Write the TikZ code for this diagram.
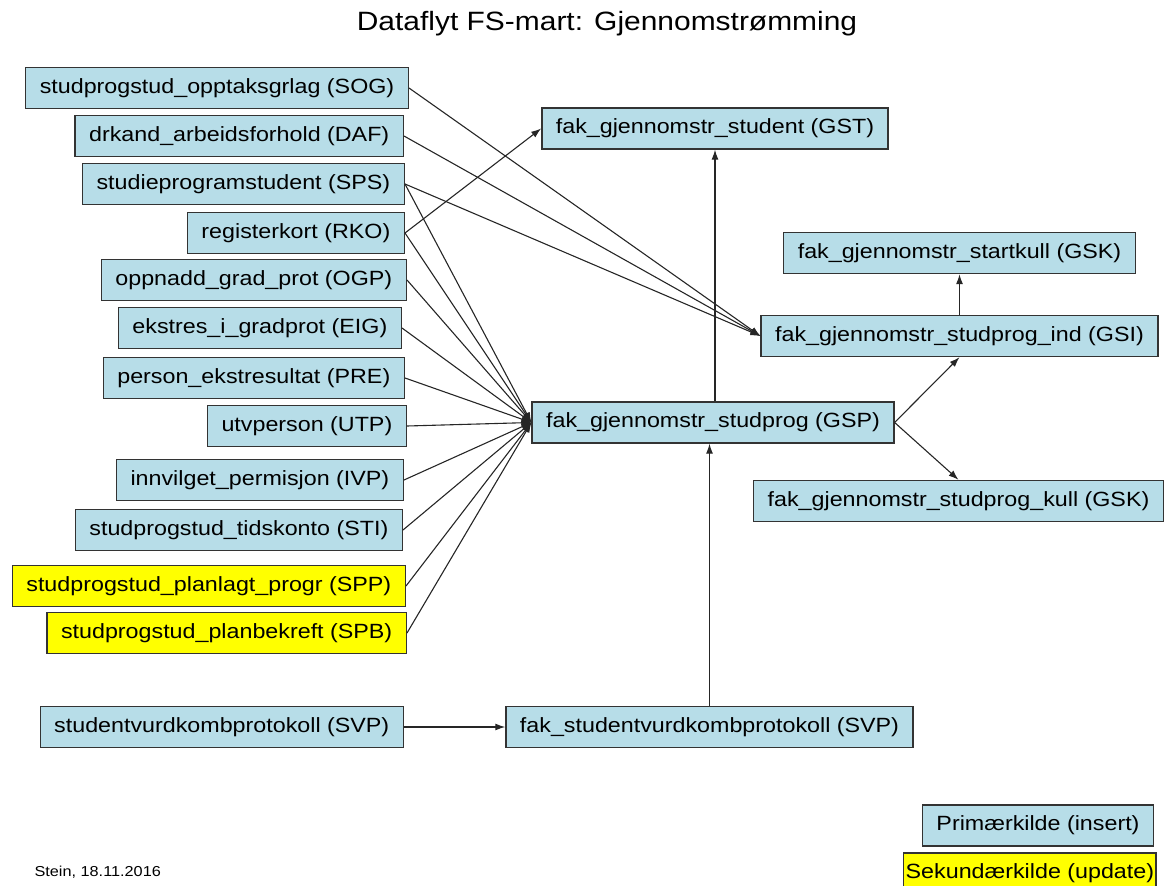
\documentclass[tikz,border=0pt]{standalone}
\usepackage{fontspec}
\setmainfont{Liberation Sans}[FakeStretch=1.13]
\usepackage{tikz}
\usetikzlibrary{arrows.meta,positioning}

\definecolor{kildeblaa}{RGB}{183,221,232}
\definecolor{kildegul}{RGB}{255,255,0}

\begin{document}
\begin{tikzpicture}[x=1pt,y=-1pt,
  tabell/.style={draw=black!80,line width=1.4pt,fill=kildeblaa,minimum height=41pt,
    inner xsep=14pt,inner ysep=0pt,font=\fontsize{20.6}{24}\selectfont},
  sektabell/.style={tabell,fill=kildegul},
  flyt/.style={-{Latex[length=10pt,width=7pt]},line width=1.1pt,black!85}]
\path[use as bounding box,clip] (0,0) rectangle (1170,886);
% Title
\node[anchor=base,font=\fontsize{26.5}{31}\selectfont] (tittel) at (607,30) {Dataflyt FS-mart: Gjennomstrømming};
% Source tables
\node[tabell,anchor=east] (sog) at (409,88) {studprogstud\_opptaksgrlag (SOG)};
\node[tabell,anchor=east] (daf) at (404,136) {drkand\_arbeidsforhold (DAF)};
\node[tabell,anchor=east] (sps) at (405,184) {studieprogramstudent (SPS)};
\node[tabell,anchor=east] (rko) at (405,233) {registerkort (RKO)};
\node[tabell,anchor=east] (ogp) at (407,280) {oppnadd\_grad\_prot (OGP)};
\node[tabell,anchor=east] (eig) at (402,328) {ekstres\_i\_gradprot (EIG)};
\node[tabell,anchor=east] (pre) at (405,378) {person\_ekstresultat (PRE)};
\node[tabell,anchor=east] (utp) at (407,426) {utvperson (UTP)};
\node[tabell,anchor=east] (ivp) at (404,480) {innvilget\_permisjon (IVP)};
\node[tabell,anchor=east] (sti) at (403,530) {studprogstud\_tidskonto (STI)};
\node[sektabell,anchor=east] (spp) at (406,586) {studprogstud\_planlagt\_progr (SPP)};
\node[sektabell,anchor=east] (spb) at (407,633) {studprogstud\_planbekreft (SPB)};
\node[tabell,anchor=east] (svp) at (404,727) {studentvurdkombprotokoll (SVP)};
% Mart tables
\node[tabell] (gst) at (715,128.5) {fak\_gjennomstr\_student (GST)};
\node[tabell] (gsk) at (959.5,253) {fak\_gjennomstr\_startkull (GSK)};
\node[tabell] (gsi) at (959.5,336) {fak\_gjennomstr\_studprog\_ind (GSI)};
\node[tabell] (gsp) at (713,422.5) {fak\_gjennomstr\_studprog (GSP)};
\node[tabell] (kull) at (958.5,501) {fak\_gjennomstr\_studprog\_kull (GSK)};
\node[tabell] (fsvp) at (709.5,727) {fak\_studentvurdkombprotokoll (SVP)};
% Legend
\node[tabell] (primaer) at (1038,825.5) {Primærkilde (insert)};
\node[sektabell,anchor=west,inner xsep=2pt] (sekundaer) at (903,873.5) {Sekundærkilde (update)};
\node[anchor=west,font=\fontsize{14.4}{17}\selectfont] (signatur) at (31,872) {Stein, 18.11.2016};
% Flows
\draw[flyt] (sog.east) -- (gsi.west);
\draw[flyt] (daf.east) -- (gsi.west);
\draw[flyt] (sps.east) -- (gsi.west);
\draw[flyt] (sps.east) -- (gsp.west);
\draw[flyt] (rko.east) -- (gst.west);
\draw[flyt] (rko.east) -- (gsp.west);
\draw[flyt] (ogp.east) -- (gsp.west);
\draw[flyt] (eig.east) -- (gsp.west);
\draw[flyt] (pre.east) -- (gsp.west);
\draw[flyt] (utp.east) -- (gsp.west);
\draw[flyt] (ivp.east) -- (gsp.west);
\draw[flyt] (sti.east) -- (gsp.west);
\draw[flyt] (spp.east) -- (gsp.west);
\draw[flyt] (spb.east) -- (gsp.west);
\draw[flyt] (svp.east) -- (fsvp.west);
\draw[flyt] (fsvp.north) -- (fsvp.north |- gsp.south);
\draw[flyt] (gsp.north -| gst.south) -- (gst.south);
\draw[flyt] (gsi.north) -- (gsk.south);
\draw[flyt] (gsp.east) -- (gsi.south);
\draw[flyt] (gsp.east) -- (kull.north);
\end{tikzpicture}
\end{document}
